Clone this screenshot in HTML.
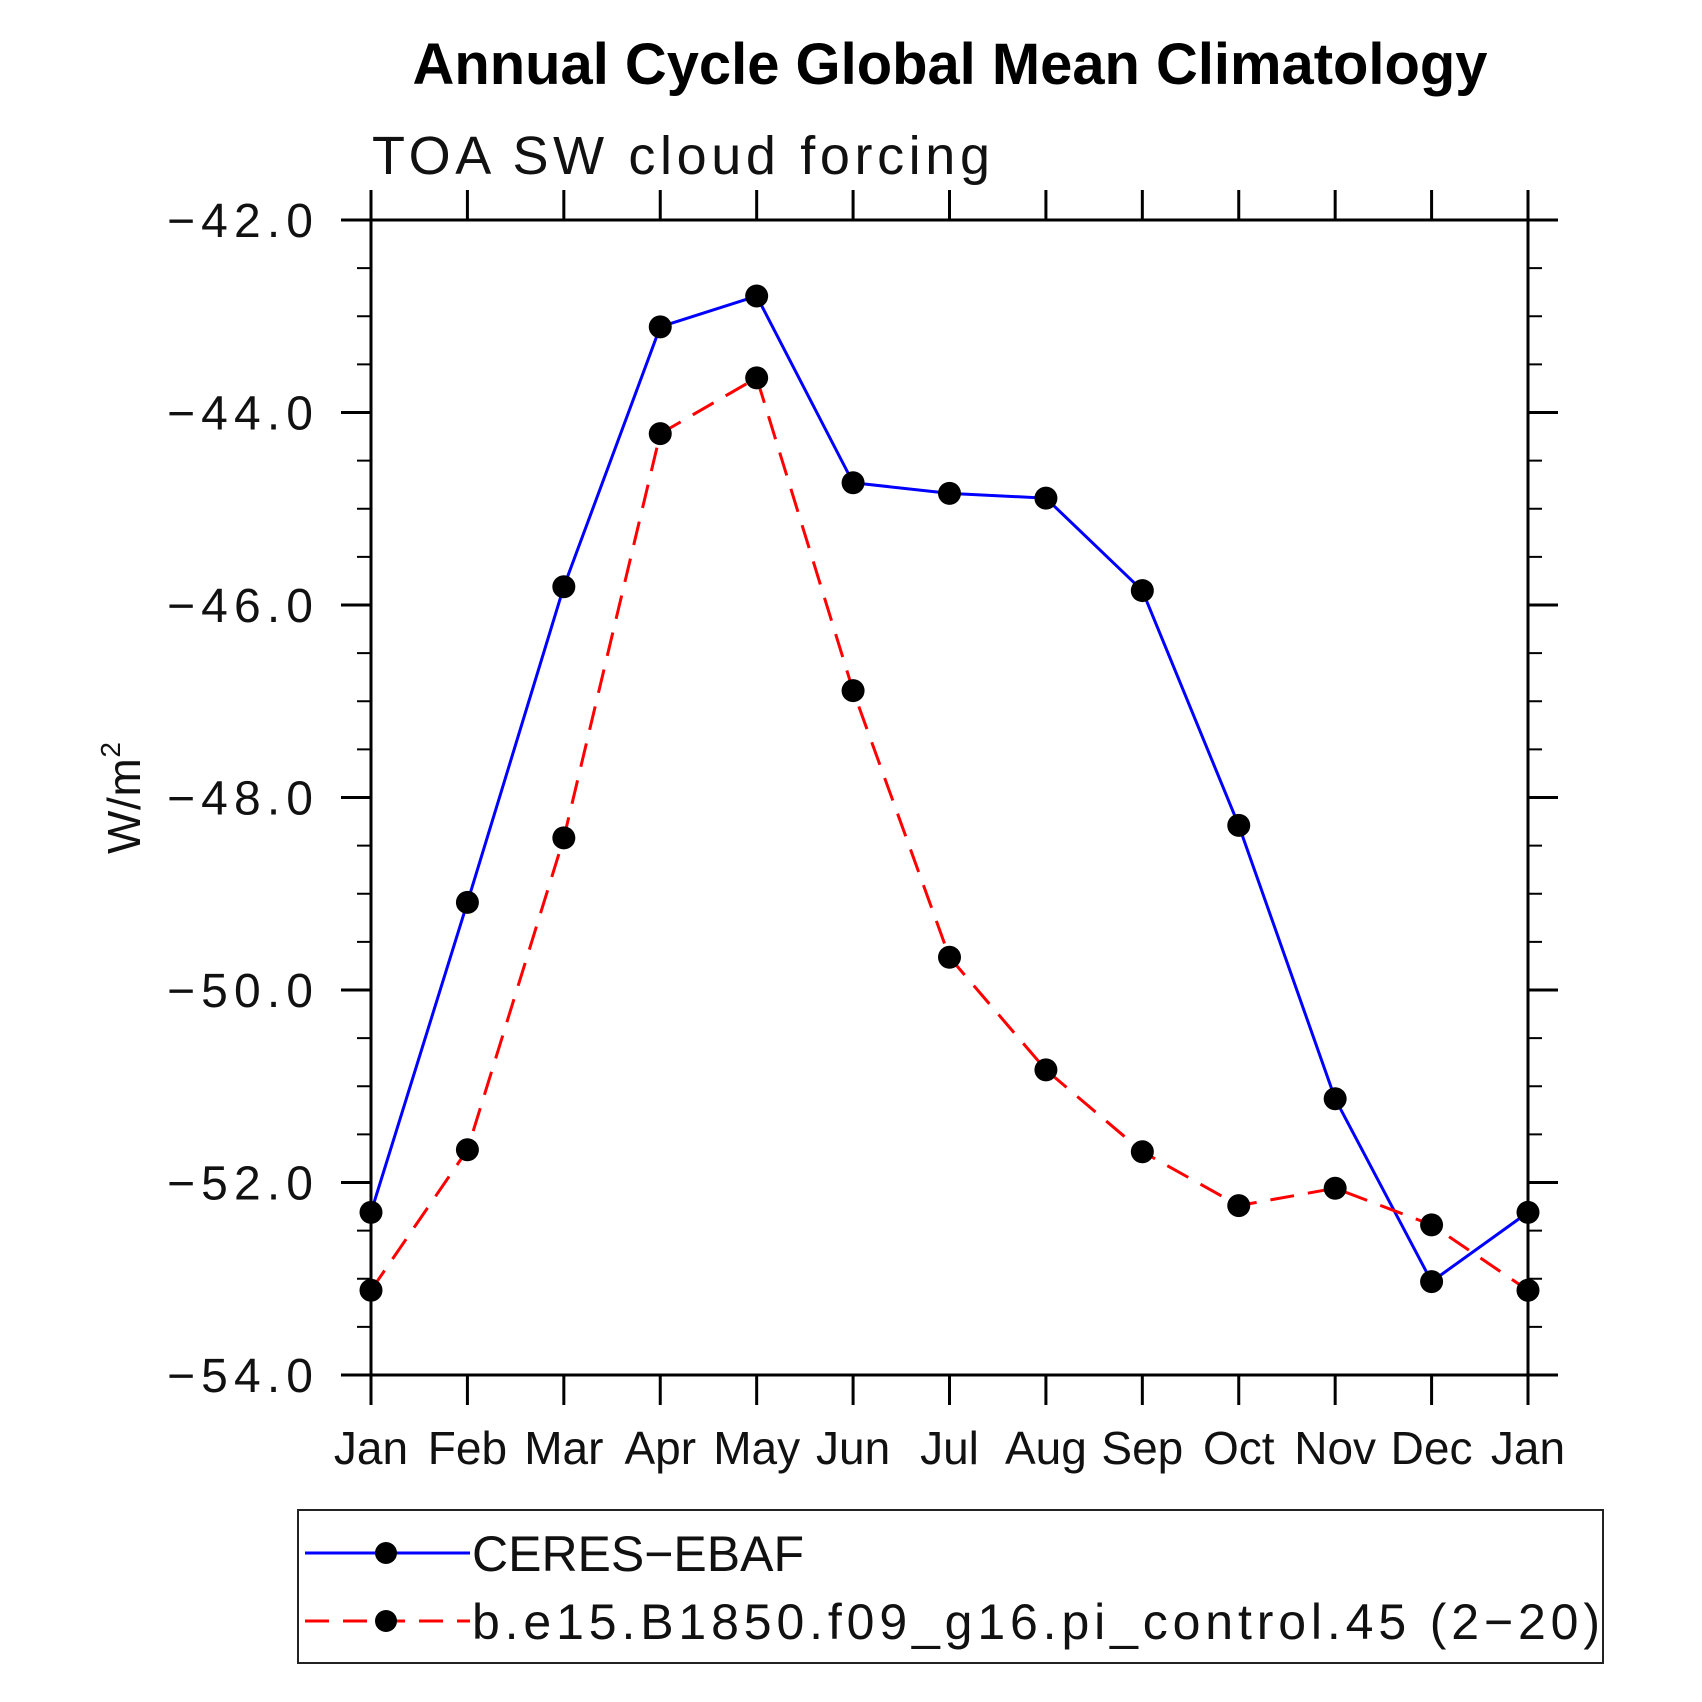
<!DOCTYPE html>
<html><head><meta charset="utf-8"><style>
html,body{margin:0;padding:0;background:#fff;}
svg{display:block;}
text{font-family:"Liberation Sans",sans-serif;}
</style></head><body>
<svg id="chart" width="1702" height="1702" viewBox="0 0 1702 1702">
<text x="950" y="84" text-anchor="middle" font-size="58" font-weight="bold" textLength="1075" lengthAdjust="spacingAndGlyphs">Annual Cycle Global Mean Climatology</text>
<text x="372" y="174" font-size="54" font-weight="300" fill="#111" textLength="618" lengthAdjust="spacing">TOA SW cloud forcing</text>
<text transform="translate(140,798) rotate(-90)" text-anchor="middle" font-size="46" font-weight="300" fill="#111" textLength="112" lengthAdjust="spacing">W/m<tspan font-size="28" dy="-20">2</tspan></text>
<g id="plot"></g>
<g>
<rect x="298" y="1510" width="1305" height="153" fill="none" stroke="#222" stroke-width="2"/>
<g>
<line x1="305" y1="1553" x2="470" y2="1553" stroke="#0000ff" stroke-width="3"/>
<circle cx="386" cy="1553" r="11" fill="#000"/>
<text x="472" y="1571" font-size="50" font-weight="300" fill="#111" textLength="332" lengthAdjust="spacing">CERES−EBAF</text>
</g>
<g>
<line x1="305" y1="1621" x2="470" y2="1621" stroke="#ff0000" stroke-width="3" stroke-dasharray="24,14"/>
<circle cx="386" cy="1621" r="11" fill="#000"/>
<text x="472" y="1639" font-size="50" font-weight="300" fill="#111" textLength="1128" lengthAdjust="spacing">b.e15.B1850.f09_g16.pi_control.45 (2−20)</text>
</g>
</g>
</svg>
<script>
const months = ["Jan","Feb","Mar","Apr","May","Jun","Jul","Aug","Sep","Oct","Nov","Dec","Jan"];
const ceres = [-52.31,-49.09,-45.81,-43.11,-42.79,-44.73,-44.84,-44.89,-45.85,-48.29,-51.13,-53.03,-52.31];
const model = [-53.12,-51.66,-48.42,-44.22,-43.64,-46.89,-49.66,-50.83,-51.68,-52.24,-52.06,-52.44,-53.12];
const yTicks = [-42,-44,-46,-48,-50,-52,-54];
const yTickLabels = ["−42.0","−44.0","−46.0","−48.0","−50.0","−52.0","−54.0"];

const NS="http://www.w3.org/2000/svg";
const L=371,R=1528,T=220,B=1375,yMax=-42,yMin=-54;
const xs=i=>L+(R-L)*i/(months.length-1);
const ys=v=>T+(yMax-v)/(yMax-yMin)*(B-T);
const g=document.getElementById('plot');
function mk(tag,attrs){const e=document.createElementNS(NS,tag);for(const k in attrs)e.setAttribute(k,attrs[k]);g.appendChild(e);return e;}

for(let v=yMax;v>=yMin-1e-9;v-=0.5){
  const y=ys(v);const major=Math.abs(v/2-Math.round(v/2))<1e-6;
  const len=major?30:14;
  const a=mk('line',{x1:L-len,y1:y,x2:L,y2:y,stroke:'#000','stroke-width':major?3:2});
  
  
  const b=mk('line',{x1:R,y1:y,x2:R+len,y2:y,stroke:'#000','stroke-width':major?3:2});
  
  
}
yTicks.forEach((v,i)=>{
  const t=mk('text',{x:313,y:ys(v)+17,'text-anchor':'end','font-size':48,'font-weight':300,fill:'#111',textLength:146,lengthAdjust:'spacing'});
  t.textContent=yTickLabels[i];
  
  
});
months.forEach((m,i)=>{
  const x=xs(i);
  const a=mk('line',{x1:x,y1:T-30,x2:x,y2:T,stroke:'#000','stroke-width':3});
  
  
  const b=mk('line',{x1:x,y1:B,x2:x,y2:B+30,stroke:'#000','stroke-width':3});
  
  
  const t=mk('text',{x:x,y:1464,'text-anchor':'middle','font-size':46,'font-weight':300,fill:'#111'});
  t.textContent=m;
  
  
});
const frame=mk('rect',{x:L,y:T,width:R-L,height:B-T,fill:'none',stroke:'#000','stroke-width':3});



function series(vals,color,dash,name){
  const p=mk('polyline',{points:vals.map((v,i)=>xs(i)+','+ys(v)).join(' '),fill:'none',stroke:color,'stroke-width':3,'stroke-dasharray':dash});
  
  
}
series(ceres,'#0000ff','none','ceres');
series(model,'#ff0000','24,14','model');
function points(vals,name){
  vals.forEach((v,i)=>{
    const c=mk('circle',{cx:xs(i),cy:ys(v),r:11.5,fill:'#000'});
    
    
  });
}
points(ceres,'ceres');
points(model,'model');
</script>
</body></html>
